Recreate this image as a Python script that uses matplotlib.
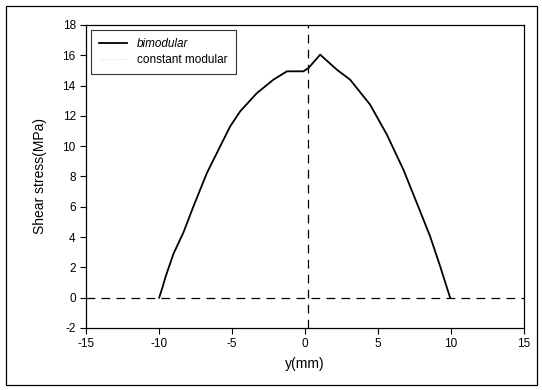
import matplotlib.pyplot as plt
from matplotlib.patches import Rectangle

plt.rcParams['font.family'] = ['Liberation Sans', 'DejaVu Sans']
plt.rcParams['axes.unicode_minus'] = False

# bimodular shear stress profile
y_mm = [-10.0, -9.75, -9.59, -9.02, -8.34, -7.65, -6.73, -5.82, -5.14, -4.45, -3.31,
        -2.17, -1.25, -0.12, 0.23, 1.03, 2.17, 3.08, 4.45, 5.6, 6.73,
        7.65, 8.56, 9.25, 9.93]
tau_bi = [0.0, 0.75, 1.3, 2.9, 4.3, 6.03, 8.23, 9.99, 11.3, 12.3, 13.5,
          14.39, 14.94, 14.94, 15.16, 16.04, 15.05, 14.39, 12.74, 10.76, 8.45,
          6.25, 4.05, 2.07, 0.0]

# constant modular series (not visible in the picture)
y_const = []
tau_const = []

# reference lines
zero_level = 0.0
neutral_axis = 0.2

x_ticks = [-15, -10, -5, 0, 5, 10, 15]
y_ticks = list(range(-2, 19, 2))

fig = plt.figure(figsize=(5.42, 3.9), dpi=100)
ax = fig.add_axes([0.159, 0.159, 0.808, 0.777])

ax.axhline(zero_level, color='black', lw=0.9, ls=(0, (7, 5)))
ax.axvline(neutral_axis, color='black', lw=0.9, ls=(0, (7, 5)))

ax.plot(y_mm, tau_bi, color='black', lw=1.3, label='bimodular')
ax.plot(y_const, tau_const, color='#dddddd', lw=0.8, ls=':', label='constant modular')

ax.set_xlim(-15, 15)
ax.set_ylim(-2, 18)
ax.set_xticks(x_ticks)
ax.set_yticks(y_ticks)
ax.tick_params(direction='out', length=4, width=0.8, labelsize=8.5)
for s in ax.spines.values():
    s.set_linewidth(0.9)

ax.set_xlabel('y(mm)', fontsize=10, labelpad=5)
ax.set_ylabel('Shear stress(MPa)', fontsize=10, labelpad=11)

leg = ax.legend(loc='upper left', fontsize=8.5, frameon=True, fancybox=False,
                edgecolor='black', borderaxespad=0.4, handlelength=2.4,
                borderpad=0.7, labelspacing=0.35)
leg.get_frame().set_linewidth(0.8)
leg.get_texts()[0].set_style('italic')

# outer frame round the whole figure
fig.patches.append(Rectangle((0.011, 0.013), 0.980, 0.972, transform=fig.transFigure,
                             fill=False, edgecolor='black', lw=0.9))

fig.savefig('out.png', dpi=100)
